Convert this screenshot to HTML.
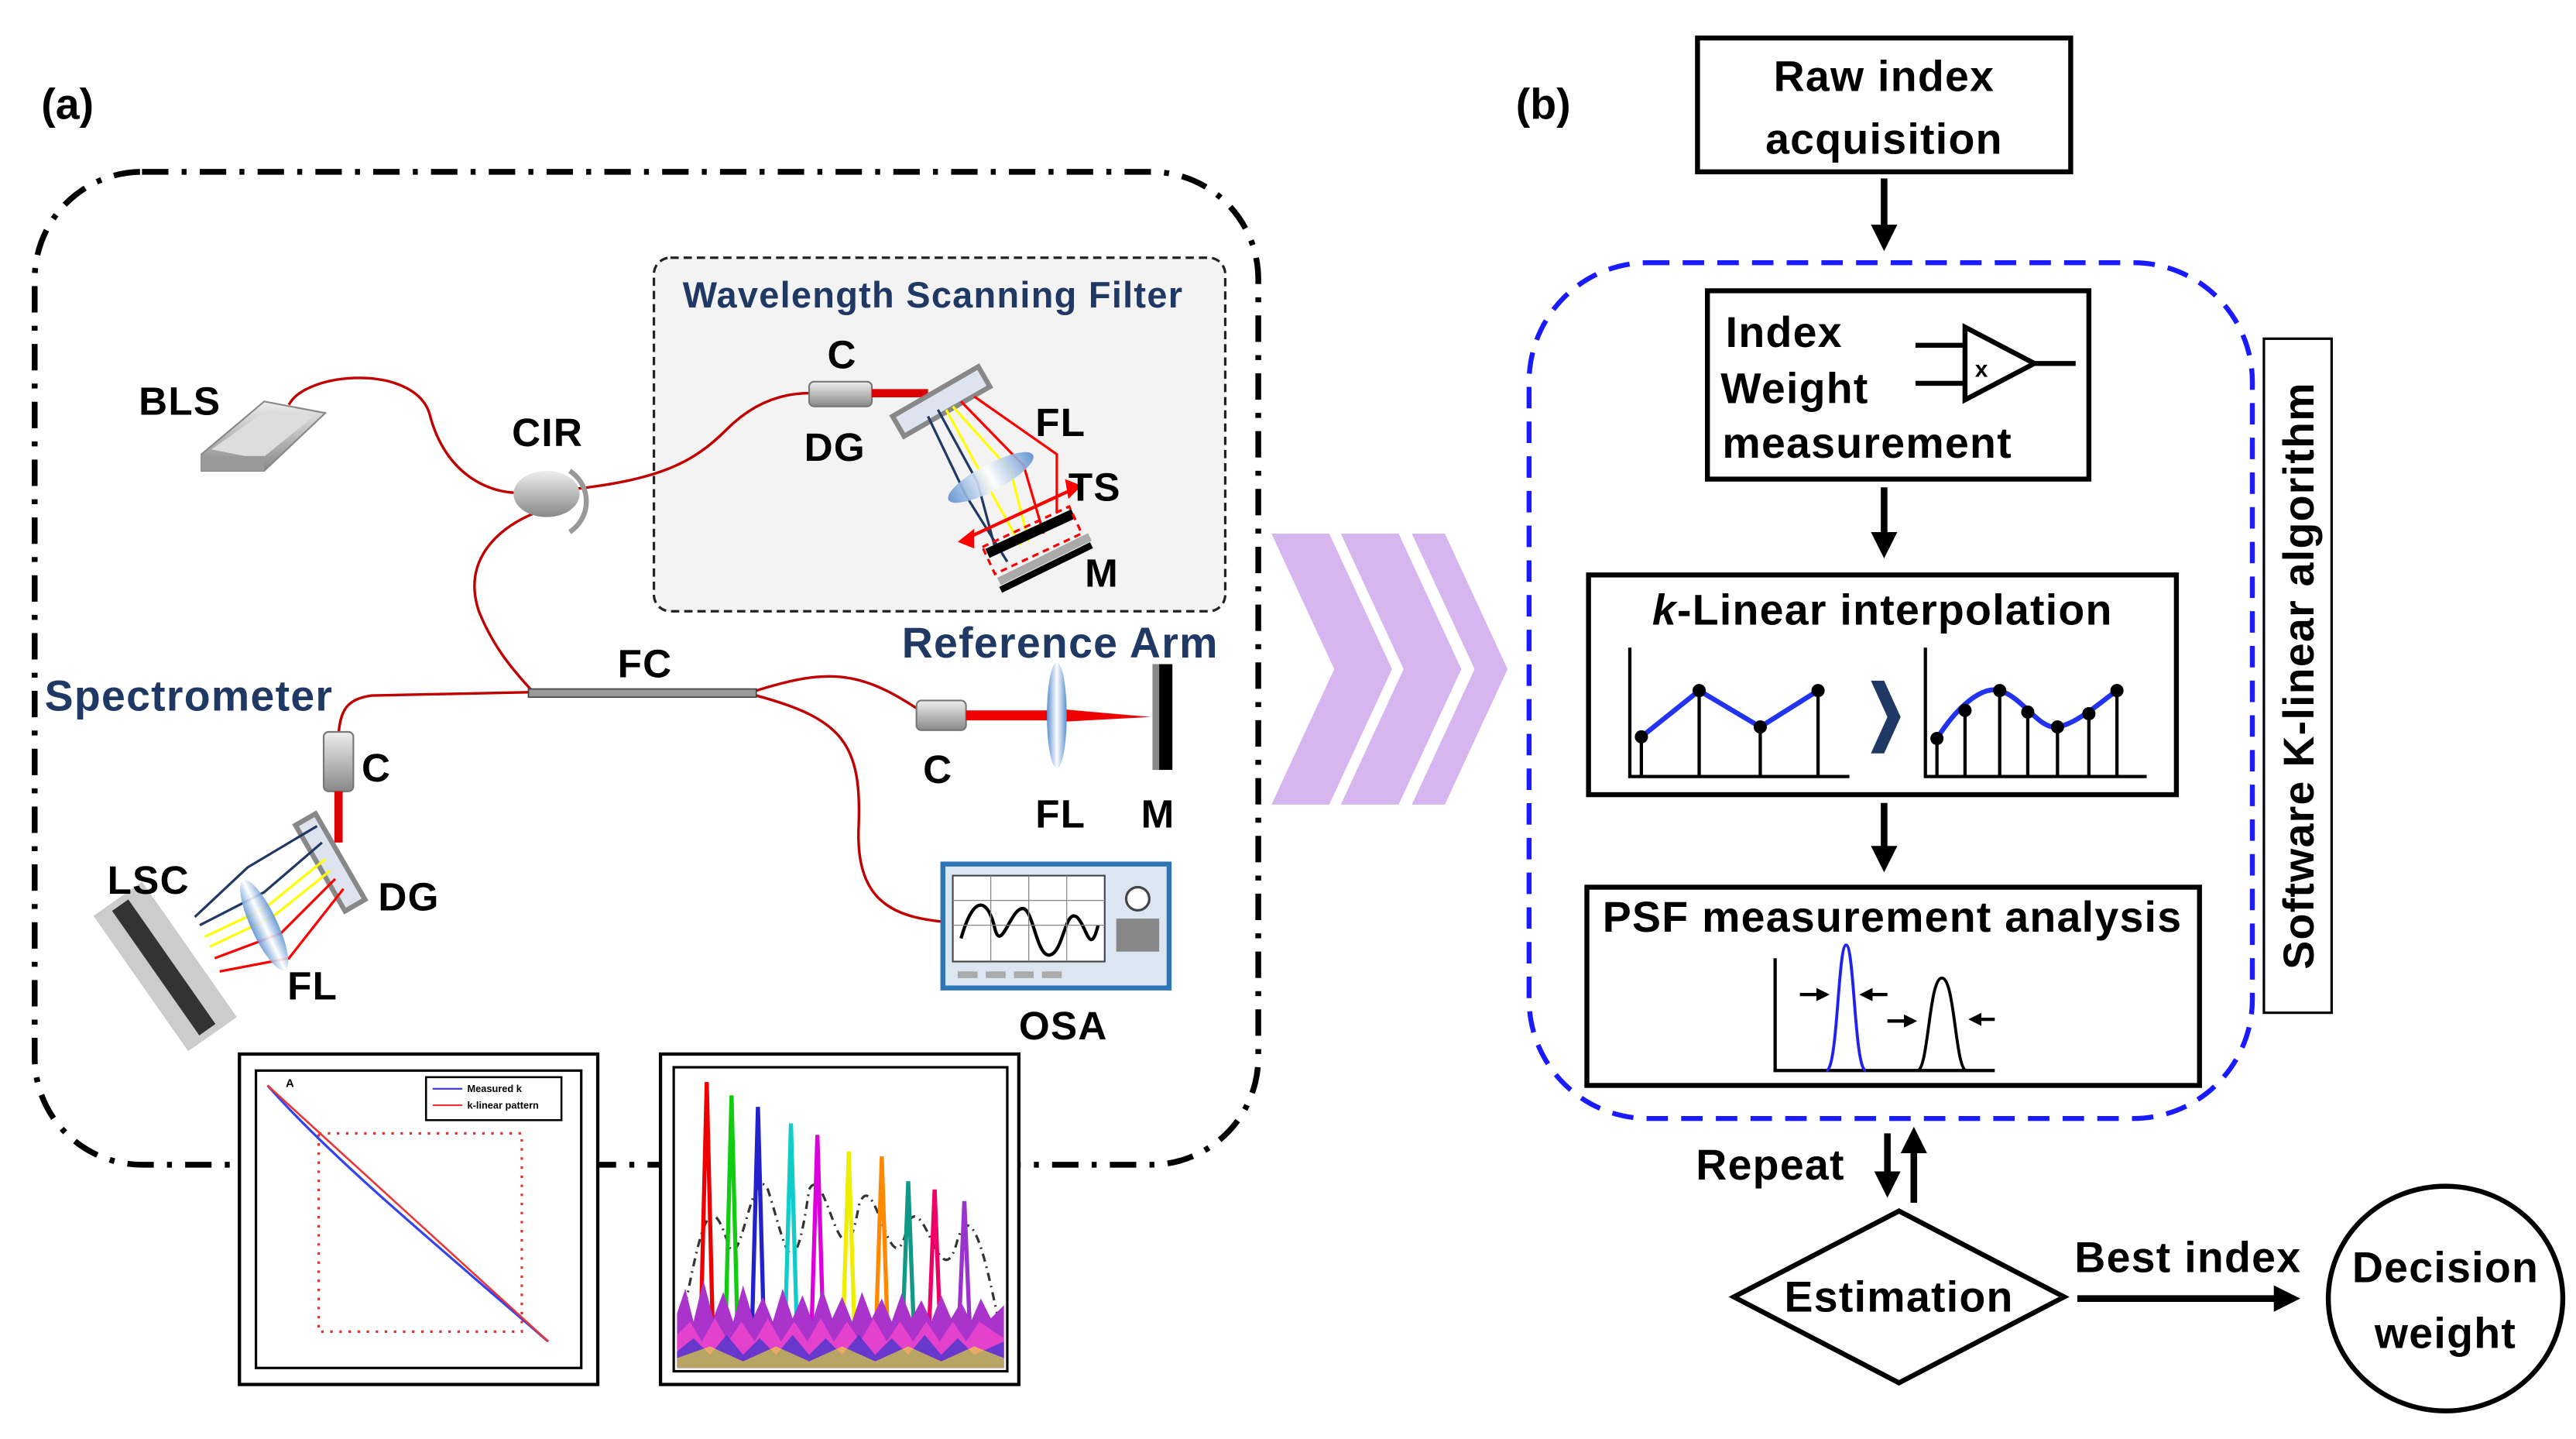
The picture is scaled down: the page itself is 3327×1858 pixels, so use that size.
<!DOCTYPE html>
<html><head><meta charset="utf-8"><style>
html,body{margin:0;padding:0;background:#fff;}
svg{display:block;}
text{font-family:"Liberation Sans",sans-serif;font-weight:bold;}
.b{letter-spacing:0.6px;}
</style></head><body>
<svg width="3327" height="1858" viewBox="0 0 1560 871" preserveAspectRatio="none" xmlns="http://www.w3.org/2000/svg">
<defs>
<linearGradient id="gr" x1="0" y1="0" x2="0" y2="1"><stop offset="0" stop-color="#eee"/><stop offset="1" stop-color="#888"/></linearGradient>
<linearGradient id="lens" x1="0" y1="0" x2="1" y2="0"><stop offset="0" stop-color="#5b8fd0"/><stop offset=".5" stop-color="#fff"/><stop offset="1" stop-color="#5b8fd0"/></linearGradient>
<marker id="ah" markerWidth="4" markerHeight="4" refX="2" refY="2" orient="auto" markerUnits="strokeWidth"><path d="M0,0 L4,2 L0,4z" fill="#000"/></marker>
</defs>
<!-- (a) -->
<text x="25" y="72" font-size="26">(a)</text>
<rect x="21" y="104" width="741" height="601" rx="65" fill="none" stroke="#000" stroke-width="3.5" stroke-dasharray="16 8 3 8"/>
<rect x="396" y="156" width="346" height="214" rx="10" fill="#f3f3f3" stroke="#222" stroke-width="1.5" stroke-dasharray="5 3"/>
<text x="565" y="186" font-size="22" fill="#1f3864" text-anchor="middle" class="b">Wavelength Scanning Filter</text>
<!-- fibers -->
<g fill="none" stroke="#c00000" stroke-width="1.6">
<path d="M175,245 C185,225 250,220 260,250 C270,290 300,300 318,298"/>
<path d="M348,296 C400,290 420,280 440,260 C460,240 480,238 490,238"/>
<path d="M325,310 C300,320 280,340 290,370 C300,395 315,410 322,418"/>
<path d="M320,419 L225,421 C210,423 206,430 205,445"/>
<path d="M458,418 C500,405 520,405 557,430"/>
<path d="M458,421 C510,435 522,450 520,500 C518,545 540,555 572,558"/>
</g>
<!-- BLS -->
<polygon points="122,275 160,243 197,250 160,285 122,285" fill="url(#gr)" stroke="#888"/>
<polygon points="128,272 162,248 190,252 158,278" fill="#ddd"/>
<rect x="122" y="276" width="38" height="9" fill="#999"/>
<text x="84" y="251" font-size="24" class="b">BLS</text>
<!-- CIR -->
<ellipse cx="331" cy="299" rx="20" ry="14" fill="url(#gr)"/>
<path d="M345,285 A22,22 0 0 1 345,322" fill="none" stroke="#999" stroke-width="3"/>
<text x="310" y="270" font-size="24" class="b">CIR</text>
<!-- WSF components -->
<rect x="490" y="231" width="38" height="15" rx="3" fill="url(#gr)" stroke="#777"/>
<line x1="528" y1="238" x2="562" y2="238" stroke="#d00" stroke-width="5"/>
<text x="501" y="223" font-size="24">C</text>
<text x="487" y="279" font-size="24" class="b">DG</text>
<g transform="translate(570,243) rotate(-30)"><rect x="-30" y="-7" width="60" height="14" fill="#dde4ef" stroke="#888" stroke-width="3"/></g>
<g stroke-width="1.5" fill="none">
<path d="M562,252 L585,300 L610,340" stroke="#1f3864"/>
<path d="M568,248 L592,292 L603,333" stroke="#1f3864"/>
<path d="M573,248 L597,292 L618,330" stroke="#ff0"/>
<path d="M577,246 L612,285 L623,328" stroke="#ff0"/>
<path d="M582,243 L620,282 L632,323" stroke="#f00"/>
<path d="M590,240 L640,275 L640,310" stroke="#f00"/>
</g>
<ellipse cx="600" cy="289" rx="29" ry="8" transform="rotate(-28 600 289)" fill="url(#lens)" opacity=".9"/>
<line x1="585" y1="326" x2="650" y2="296" stroke="#f00" stroke-width="2"/>
<polygon points="580,328 590,320 590,332" fill="#f00"/><polygon points="655,294 645,290 647,302" fill="#f00"/>
<line x1="598" y1="335" x2="650" y2="311" stroke="#000" stroke-width="6"/>
<rect x="596" y="318" width="58" height="18" transform="rotate(-25 625 327)" fill="none" stroke="#f00" stroke-width="1.5" stroke-dasharray="4 3"/>
<line x1="605" y1="352" x2="660" y2="325" stroke="#aaa" stroke-width="5"/>
<line x1="606" y1="357" x2="661" y2="330" stroke="#000" stroke-width="4"/>
<text x="627" y="264" font-size="24" class="b">FL</text>
<text x="647" y="303" font-size="24" class="b">TS</text>
<text x="657" y="355" font-size="24">M</text>
<!-- FC -->
<rect x="320" y="417" width="138" height="5" fill="#999" stroke="#444" stroke-width=".8"/>
<text x="374" y="410" font-size="24" class="b">FC</text>
<!-- Reference arm -->
<text x="642" y="398" font-size="26" fill="#1f3864" text-anchor="middle" class="b">Reference Arm</text>
<rect x="555" y="424" width="30" height="18" rx="3" fill="url(#gr)" stroke="#777"/>
<line x1="585" y1="433" x2="640" y2="433" stroke="#e00" stroke-width="6"/>
<polygon points="640,429 697,434 640,437" fill="#e00"/>
<ellipse cx="640" cy="433" rx="6" ry="32" fill="url(#lens)"/>
<rect x="698" y="402" width="12" height="64" fill="#000"/><rect x="698" y="402" width="4" height="64" fill="#888"/>
<text x="559" y="474" font-size="24">C</text>
<text x="627" y="501" font-size="24" class="b">FL</text>
<text x="691" y="501" font-size="24">M</text>
<!-- Spectrometer -->
<text x="27" y="430" font-size="26" fill="#1f3864" class="b">Spectrometer</text>
<rect x="196" y="443" width="18" height="36" rx="3" fill="url(#gr)" stroke="#777"/>
<line x1="205" y1="479" x2="205" y2="510" stroke="#d00" stroke-width="5"/>
<text x="219" y="473" font-size="24">C</text>
<g transform="translate(200,522) rotate(60)"><rect x="-30" y="-7" width="60" height="14" fill="#dde4ef" stroke="#888" stroke-width="3"/></g>
<g transform="translate(100,585) rotate(-35)"><rect x="-18" y="-50" width="36" height="100" fill="#ccc"/><rect x="-7" y="-46" width="12" height="92" fill="#333"/></g>
<g stroke-width="1.5" fill="none">
<path d="M192,500 L150,525 L118,555" stroke="#1f3864"/>
<path d="M195,510 L160,540 L121,560" stroke="#1f3864"/>
<path d="M197,520 L160,550 L124,567" stroke="#ff0"/>
<path d="M200,527 L165,555 L127,573" stroke="#ff0"/>
<path d="M203,532 L170,565 L130,580" stroke="#f00"/>
<path d="M208,538 L175,580 L133,588" stroke="#f00"/>
</g>
<ellipse cx="160" cy="560" rx="8" ry="30" transform="rotate(-25 160 560)" fill="url(#lens)" opacity=".9"/>
<text x="65" y="541" font-size="24" class="b">LSC</text>
<text x="229" y="551" font-size="24" class="b">DG</text>
<text x="174" y="605" font-size="24" class="b">FL</text>
<!-- OSA -->
<rect x="571" y="523" width="137" height="75" fill="#dce6f2" stroke="#2e75b6" stroke-width="3"/>
<rect x="577" y="530" width="92" height="52" fill="#fff" stroke="#444"/>
<path d="M582,568 C590,540 598,545 602,560 C606,580 612,548 620,550 C626,552 628,580 636,578 C644,576 645,550 652,555 C658,560 660,580 665,560" fill="none" stroke="#000" stroke-width="2"/>
<g stroke="#888" stroke-width=".6"><line x1="577" y1="545" x2="669" y2="545"/><line x1="577" y1="560" x2="669" y2="560"/><line x1="600" y1="530" x2="600" y2="582"/><line x1="623" y1="530" x2="623" y2="582"/><line x1="646" y1="530" x2="646" y2="582"/></g>
<circle cx="689" cy="544" r="7" fill="#fff" stroke="#444" stroke-width="1.5"/>
<rect x="676" y="556" width="26" height="20" fill="#888"/>
<g fill="#aaa"><rect x="580" y="588" width="12" height="4"/><rect x="597" y="588" width="12" height="4"/><rect x="614" y="588" width="12" height="4"/><rect x="631" y="588" width="12" height="4"/></g>
<text x="617" y="629" font-size="24" class="b">OSA</text>
<!-- Plots -->
<rect x="145" y="638" width="217" height="200" fill="#fff" stroke="#000" stroke-width="2"/>
<rect x="155" y="648" width="197" height="180" fill="#fff" stroke="#000" stroke-width="1.5"/>
<rect x="193" y="686" width="123" height="120" fill="none" stroke="#d33" stroke-width="1.5" stroke-dasharray="1.5 4"/>
<path d="M162,657 C200,700 260,750 332,812" fill="none" stroke="#3344ee" stroke-width="1.5"/>
<path d="M162,657 L332,812" fill="none" stroke="#e33" stroke-width="1.2"/>
<rect x="258" y="652" width="82" height="26" fill="#fff" stroke="#000" stroke-width="1.2"/>
<line x1="262" y1="659" x2="280" y2="659" stroke="#33e"/><line x1="262" y1="669" x2="280" y2="669" stroke="#e33"/>
<text x="283" y="661" font-size="6" font-weight="normal">Measured k</text>
<text x="283" y="671" font-size="6" font-weight="normal">k-linear pattern</text>
<text x="173" y="658" font-size="7" font-weight="normal">A</text>
<rect x="400" y="638" width="217" height="200" fill="#fff" stroke="#000" stroke-width="2"/>
<rect x="408" y="646" width="202" height="184" fill="#fff" stroke="#000" stroke-width="1.5"/>
<path d="M415,790 C425,740 430,720 440,750 C448,780 455,700 465,720 C475,750 480,790 490,720 C500,700 510,790 520,730 C530,700 540,790 550,740 C560,720 570,790 580,750 C590,720 600,780 605,800" fill="none" stroke="#333" stroke-width="1.5" stroke-dasharray="5 3 1 3"/>
<g fill="none" stroke-width="2.5">
<path d="M424,820 L428,655 L432,820" stroke="#e00"/>
<path d="M439,820 L443,663 L447,820" stroke="#1c1"/>
<path d="M455,820 L459,670 L463,820" stroke="#22c"/>
<path d="M475,820 L479,680 L483,820" stroke="#1cc"/>
<path d="M491,820 L495,687 L499,820" stroke="#d0d"/>
<path d="M510,820 L514,697 L518,820" stroke="#ee0"/>
<path d="M530,820 L534,700 L538,820" stroke="#f80"/>
<path d="M546,820 L550,715 L554,820" stroke="#198"/>
<path d="M562,820 L566,720 L570,820" stroke="#e06"/>
<path d="M580,820 L584,727 L588,820" stroke="#93c"/>
</g>
<path d="M410,828 L410,795 L415,780 L420,800 L426,775 L432,798 L438,782 L444,800 L450,778 L456,798 L462,785 L468,800 L474,780 L480,798 L486,784 L492,800 L498,780 L504,798 L510,785 L516,800 L522,782 L528,798 L534,786 L540,800 L546,783 L552,798 L558,787 L564,800 L570,784 L576,798 L582,788 L588,800 L594,786 L600,798 L608,790 L608,828z" fill="#a3c"/>
<path d="M410,828 L410,808 L418,800 L425,812 L433,798 L441,812 L449,800 L457,812 L465,798 L473,812 L481,800 L489,812 L497,798 L505,812 L513,800 L521,812 L529,798 L537,812 L545,800 L553,812 L561,800 L569,812 L577,800 L585,812 L593,800 L608,810 L608,828z" fill="#e4c" opacity=".85"/>
<path d="M410,828 L410,818 L420,810 L430,820 L440,808 L450,820 L460,810 L470,820 L480,808 L490,820 L500,810 L510,820 L520,808 L530,820 L540,810 L550,820 L560,808 L570,820 L580,810 L590,820 L608,812 L608,828z" fill="#33c" opacity=".7"/>
<path d="M410,828 L410,822 L430,815 L450,824 L470,815 L490,824 L510,815 L530,824 L550,815 L570,824 L590,815 L608,822 L608,828z" fill="#ee2" opacity=".6"/>
<!-- chevrons -->
<g fill="#d7b6ef">
<polygon points="770,323 805,323 843,405 805,487 770,487 808,405"/>
<polygon points="812,323 847,323 885,405 847,487 812,487 850,405"/>
<polygon points="855,323 875,323 913,405 875,487 855,487 893,405"/>
</g>
<!-- (b) -->
<text x="918" y="72" font-size="26">(b)</text>
<rect x="1028" y="23" width="226" height="81" fill="#fff" stroke="#000" stroke-width="3"/>
<text x="1141" y="55" font-size="26" text-anchor="middle" class="b">Raw index</text>
<text x="1141" y="93" font-size="26" text-anchor="middle" class="b">acquisition</text>
<g stroke="#000" stroke-width="4" marker-end="url(#ah)"><line x1="1141" y1="108" x2="1141" y2="144"/><line x1="1141" y1="295" x2="1141" y2="330"/><line x1="1141" y1="486" x2="1141" y2="520"/><line x1="1143" y1="686" x2="1143" y2="717"/><line x1="1159" y1="728" x2="1159" y2="690"/><line x1="1258" y1="786" x2="1385" y2="786"/></g>
<rect x="926" y="159" width="438" height="518" rx="72" fill="none" stroke="#1a1aff" stroke-width="3" stroke-dasharray="13 8"/>
<rect x="1034" y="176" width="231" height="114" fill="#fff" stroke="#000" stroke-width="3"/>
<text x="1045" y="210" font-size="26" class="b">Index</text>
<text x="1042" y="244" font-size="26" class="b">Weight</text>
<text x="1043" y="277" font-size="26" class="b">measurement</text>
<polygon points="1190,198 1190,242 1232,220" fill="none" stroke="#000" stroke-width="3"/>
<g stroke="#000" stroke-width="3"><line x1="1160" y1="209" x2="1190" y2="209"/><line x1="1160" y1="232" x2="1190" y2="232"/><line x1="1232" y1="220" x2="1257" y2="220"/></g>
<text x="1196" y="228" font-size="14" font-weight="normal">x</text>
<rect x="962" y="348" width="356" height="133" fill="#fff" stroke="#000" stroke-width="3"/>
<text x="1140" y="378" font-size="26" text-anchor="middle" class="b"><tspan font-style="italic">k</tspan>-Linear interpolation</text>
<g stroke="#000" stroke-width="2" fill="none">
<path d="M987,392 L987,470 L1120,470"/><path d="M1166,392 L1166,470 L1300,470"/>
<path d="M994,446V470M1029,418V470M1066,440V470M1101,418V470"/>
<path d="M1173,447V470M1190,430V470M1211,418V470M1228,431V470M1246,440V470M1265,432V470M1282,418V470"/>
</g>
<polyline points="994,446 1029,418 1066,440 1101,418" fill="none" stroke="#2233ee" stroke-width="3"/>
<path d="M1173,447 C1185,428 1200,415 1211,418 C1225,422 1235,442 1246,440 C1258,438 1272,425 1282,418" fill="none" stroke="#2233ee" stroke-width="3"/>
<g fill="#000"><circle cx="994" cy="446" r="4"/><circle cx="1029" cy="418" r="4"/><circle cx="1066" cy="440" r="4"/><circle cx="1101" cy="418" r="4"/><circle cx="1173" cy="447" r="4"/><circle cx="1190" cy="430" r="4"/><circle cx="1211" cy="418" r="4"/><circle cx="1228" cy="431" r="4"/><circle cx="1246" cy="440" r="4"/><circle cx="1265" cy="432" r="4"/><circle cx="1282" cy="418" r="4"/></g>
<polygon points="1133,412 1141,412 1151,434 1141,456 1133,456 1143,434" fill="#1f3864"/>
<rect x="961" y="537" width="371" height="120" fill="#fff" stroke="#000" stroke-width="3"/>
<text x="1146" y="564" font-size="26" text-anchor="middle" class="b">PSF measurement analysis</text>
<path d="M1075,580 L1075,648 L1208,648" fill="none" stroke="#000" stroke-width="2"/>
<path d="M1106,648 C1113,648 1113,572 1118,572 C1123,572 1123,648 1130,648" fill="none" stroke="#22e" stroke-width="1.8"/>
<path d="M1161,648 C1168,648 1168,592 1176,592 C1184,592 1184,648 1191,648" fill="none" stroke="#000" stroke-width="1.8"/>
<g stroke="#000" stroke-width="2" marker-end="url(#ah)"><line x1="1090" y1="602" x2="1104" y2="602"/><line x1="1143" y1="602" x2="1130" y2="602"/><line x1="1143" y1="618" x2="1157" y2="618"/><line x1="1208" y1="617" x2="1196" y2="617"/></g>
<rect x="1371" y="205" width="41" height="408" fill="#fff" stroke="#000" stroke-width="1.5"/>
<text x="0" y="0" font-size="26" text-anchor="middle" class="b" transform="translate(1401,409) rotate(-90)">Software K-linear algorithm</text>
<text x="1027" y="714" font-size="26" class="b">Repeat</text>
<polygon points="1150,733 1250,785 1150,837 1050,785" fill="#fff" stroke="#000" stroke-width="3"/>
<text x="1150" y="794" font-size="26" text-anchor="middle" class="b">Estimation</text>
<text x="1325" y="770" font-size="26" text-anchor="middle" class="b">Best index</text>
<ellipse cx="1481" cy="786" rx="71" ry="68" fill="#fff" stroke="#000" stroke-width="3"/>
<text x="1481" y="776" font-size="26" text-anchor="middle" class="b">Decision</text>
<text x="1481" y="816" font-size="26" text-anchor="middle" class="b">weight</text>
</svg>
</body></html>
